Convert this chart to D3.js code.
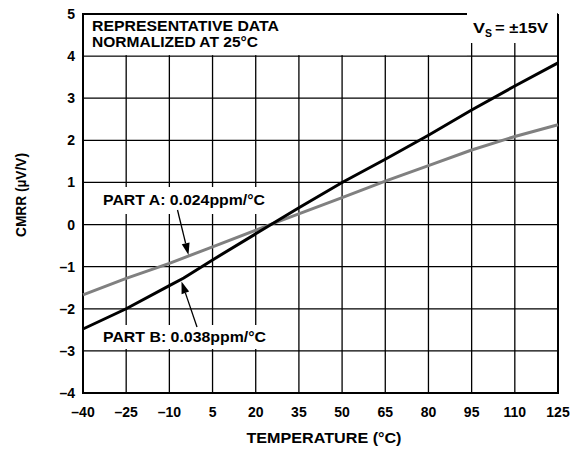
<!DOCTYPE html>
<html><head><meta charset="utf-8">
<script src="https://cdn.jsdelivr.net/npm/d3@7"></script>
<style>body{margin:0;background:#fff}svg{display:block}text{font-family:"Liberation Sans",Arial,sans-serif;font-weight:bold;fill:#000}</style>
</head><body>
<script>
const xTicks = [-40,-25,-10,5,20,35,50,65,80,95,110,125];
const yTicks = [-4,-3,-2,-1,0,1,2,3,4,5];
const partATemps = [-40,-25,-10,5,25,50,65,80,95,110,125];
const partAValues = [-1.67,-1.28,-0.92,-0.53,0,0.64,1.03,1.40,1.77,2.09,2.37];
const partBTemps = [-40,-25,-10,-5,5,20,35,50,65,80,95,110,125];
const partBValues = [-2.48,-2.0,-1.45,-1.27,-0.84,-0.22,0.4,1.0,1.55,2.12,2.72,3.29,3.84];
const labelA = "PART A: 0.024ppm/°C";
const labelB = "PART B: 0.038ppm/°C";

const W=582,H=449, L=83, R=558, T=14, B=393;
const svg=d3.select("body").append("svg").attr("width",W).attr("height",H);
const x=d3.scaleLinear().domain([-40,125]).range([L,R]);
const y=d3.scaleLinear().domain([-4,5]).range([B,T]);

// grid
const g=svg.append("g");
g.selectAll(".vx").data(xTicks).join("line").attr("x1",d=>x(d)).attr("x2",d=>x(d)).attr("y1",T).attr("y2",B).attr("stroke","#000").attr("stroke-width",1.3);
g.selectAll(".hy").data(yTicks).join("line").attr("x1",L).attr("x2",R).attr("y1",d=>y(d)).attr("y2",d=>y(d)).attr("stroke","#000").attr("stroke-width",1.3);

// white boxes
svg.append("rect").attr("x",L+1).attr("y",T+1).attr("width",467-L-1).attr("height",y(4)-T-2).attr("fill","#fff");
svg.append("rect").attr("x",467).attr("y",T-2).attr("width",R-1-467).attr("height",43-T+2).attr("fill","#fff");
svg.append("rect").attr("x",98).attr("y",187).attr("width",172).attr("height",27).attr("fill","#fff");
svg.append("rect").attr("x",98).attr("y",325).attr("width",172).attr("height",24).attr("fill","#fff");

// border
svg.append("path").attr("d",`M467,${T}H${L}V${B}H${R}V${T}`).attr("fill","none").attr("stroke","#000").attr("stroke-width",2);

// data lines
const line=d3.line().x(d=>x(d[0])).y(d=>y(d[1]));
svg.append("path").datum(partATemps.map((t,i)=>[t,partAValues[i]])).attr("d",line).attr("fill","none").attr("stroke","#808080").attr("stroke-width",3);
svg.append("path").datum(partBTemps.map((t,i)=>[t,partBValues[i]])).attr("d",line).attr("fill","none").attr("stroke","#000").attr("stroke-width",3);

// arrows
function arrow(x1,y1,x2,y2){
  const ang=Math.atan2(y2-y1,x2-x1), len=12, hw=4;
  const bx=x2-len*Math.cos(ang), by=y2-len*Math.sin(ang);
  svg.append("line").attr("x1",x1).attr("y1",y1).attr("x2",bx).attr("y2",by).attr("stroke","#000").attr("stroke-width",1.3);
  const px=-Math.sin(ang)*hw, py=Math.cos(ang)*hw;
  svg.append("path").attr("d",`M${x2},${y2}L${bx+px},${by+py}L${bx-px},${by-py}Z`).attr("fill","#000");
}
arrow(177.5,210,188.5,255);
arrow(197,327,181.5,281.5);

function txt(xp,yp,size,len,s,anchor){
  const t=svg.append("text").attr("x",xp).attr("y",yp).attr("font-size",size).text(s);
  if(len) t.attr("textLength",len).attr("lengthAdjust","spacingAndGlyphs");
  if(anchor) t.attr("text-anchor",anchor);
  return t;
}
// labels
txt(103,205,15,162,labelA);
txt(103,342,15,163,labelB);
txt(92,31,15,187,"REPRESENTATIVE DATA");
txt(92,46.5,15,166,"NORMALIZED AT 25°C");
txt(473,33,15,12,"V");
txt(485,37,11,7,"S");
txt(495,33,15,53,"= ±15V");

// tick labels
const fmt=d=>d<0?"–"+Math.abs(d):String(d);
svg.selectAll(".xl").data(xTicks).join("text").attr("x",d=>x(d)).attr("y",417).attr("text-anchor","middle").attr("font-size",14).text(fmt);
svg.selectAll(".yl").data(yTicks).join("text").attr("x",75).attr("y",d=>y(d)+5).attr("text-anchor","end").attr("font-size",14).text(fmt);

txt(324,443,15,155,"TEMPERATURE (°C)","middle");
svg.append("text").attr("transform","translate(26,195) rotate(-90)").attr("text-anchor","middle").attr("font-size",15).attr("textLength",84).attr("lengthAdjust","spacingAndGlyphs").text("CMRR (µV/V)");
</script>
</body></html>
